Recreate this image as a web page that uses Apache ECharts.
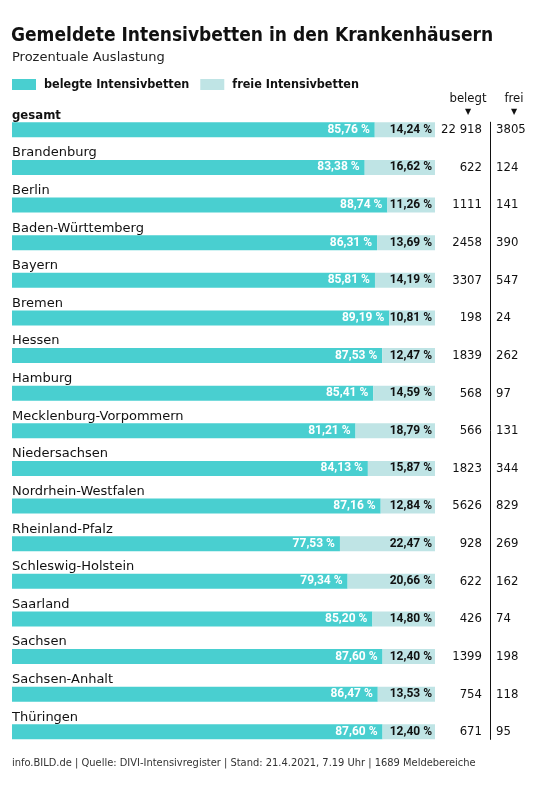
<!DOCTYPE html>
<html><head><meta charset="utf-8">
<script src="https://cdn.jsdelivr.net/npm/echarts@6.0.0/dist/echarts.min.js"></script>
<style>html,body{margin:0;padding:0;background:#fff}#c{width:556px;height:795px}</style>
</head><body><div id="c"></div>
<script>
const regions = ['gesamt','Brandenburg','Berlin','Baden-Württemberg','Bayern','Bremen','Hessen','Hamburg','Mecklenburg-Vorpommern','Niedersachsen','Nordrhein-Westfalen','Rheinland-Pfalz','Schleswig-Holstein','Saarland','Sachsen','Sachsen-Anhalt','Thüringen'];
const belegtPct = [85.76,83.38,88.74,86.31,85.81,89.19,87.53,85.41,81.21,84.13,87.16,77.53,79.34,85.20,87.60,86.47,87.60];
const freiPct = [14.24,16.62,11.26,13.69,14.19,10.81,12.47,14.59,18.79,15.87,12.84,22.47,20.66,14.80,12.40,13.53,12.40];
const belegtBeds = [22918,622,1111,2458,3307,198,1839,568,566,1823,5626,928,622,426,1399,754,671];
const freiBeds = [3805,124,141,390,547,24,262,97,131,344,829,269,162,74,198,118,95];
const seriesNames = ['belegte Intensivbetten','freie Intensivbetten'];
const columnHeads = ['belegt','frei'];

const TEAL = '#49CFD0', LIGHT = '#BFE4E5', INK = '#111';
const COND = "'DejaVu Sans Condensed', 'DejaVu Sans', sans-serif";
const PCTF = "Roboto, 'DejaVu Sans Condensed', sans-serif";
const REG = "'DejaVu Sans', sans-serif";

const pct = v => v.toFixed(2).replace('.', ',') + ' %';
const num = v => v >= 10000 ? String(v).replace(/\B(?=(\d{3})+(?!\d))/g, ' ') : String(v);

const chart = echarts.init(document.getElementById('c'), null, {renderer: 'canvas'});
const option = {
  animation: false,
  backgroundColor: '#fff',
  title: [
    {text: 'Gemeldete Intensivbetten in den Krankenhäusern', left: 11, top: 27, padding: 0,
     textStyle: {fontFamily: COND, fontWeight: 'bold', fontSize: 19, color: INK}},
    {text: 'Prozentuale Auslastung', left: 12, top: 51, padding: 0,
     textStyle: {fontFamily: REG, fontWeight: 'normal', fontSize: 13, color: '#222'}},
    {text: 'info.BILD.de | Quelle: DIVI-Intensivregister | Stand: 21.4.2021, 7.19 Uhr | 1689 Meldebereiche', left: 12, top: 758, padding: 0,
     textStyle: {fontFamily: COND, fontWeight: 'normal', fontSize: 11, color: '#333'}}
  ],
  legend: {
    left: 12, top: 78, padding: 0, itemWidth: 24, itemHeight: 11, itemGap: 11, icon: 'rect',
    selectedMode: false, data: seriesNames,
    textStyle: {fontFamily: COND, fontWeight: 'bold', fontSize: 12.5, color: INK, padding: [0,0,0,3]}
  },
  grid: {left: 12, right: 121, top: 111, bottom: 44.4, containLabel: false},
  xAxis: {type: 'value', min: 0, max: 100, show: false},
  yAxis: [
    {type: 'category', inverse: true, data: regions, position: 'left',
     axisLine: {show: false}, axisTick: {show: false}, splitLine: {show: false},
     axisLabel: {inside: true, margin: 0, align: 'left', verticalAlign: 'bottom', padding: [0,0,7,0],
       formatter: (v, i) => i === 0 ? '{b|' + v + '}' : '{n|' + v + '}',
       rich: {
         b: {fontFamily: COND, fontWeight: 'bold', fontSize: 13, color: INK, lineHeight: 15},
         n: {fontFamily: REG, fontSize: 13, color: INK, lineHeight: 15}
       }}},
    {type: 'category', inverse: true, data: regions, position: 'right', offset: 0,
     axisLine: {show: false}, axisTick: {show: false}, splitLine: {show: false},
     axisLabel: {margin: 47, align: 'right', fontFamily: COND, fontSize: 13, color: INK,
       formatter: (v, i) => num(belegtBeds[i])}},
    {type: 'category', inverse: true, data: regions, position: 'right', offset: 0,
     axisLine: {show: false}, axisTick: {show: false}, splitLine: {show: false},
     axisLabel: {margin: 61, align: 'left', fontFamily: COND, fontSize: 13, color: INK,
       formatter: (v, i) => num(freiBeds[i])}}
  ],
  series: [
    {name: seriesNames[0], type: 'bar', stack: 'all', barWidth: 15, data: belegtPct,
     itemStyle: {color: TEAL}, emphasis: {disabled: true},
     label: {show: true, position: 'insideRight', distance: 5, color: '#fff',
       fontFamily: PCTF, fontWeight: 'bold', fontSize: 12, formatter: p => pct(p.value)}},
    {name: seriesNames[1], type: 'bar', stack: 'all', barWidth: 15, data: freiPct,
     itemStyle: {color: LIGHT}, emphasis: {disabled: true},
     label: {show: true, position: 'insideRight', distance: 3, color: INK,
       fontFamily: PCTF, fontWeight: 'bold', fontSize: 12, formatter: p => pct(p.value)}}
  ],
  graphic: [
    {type: 'text', x: 468, y: 99, style: {text: columnHeads[0], fontFamily: COND, fontSize: 13, fill: INK, align: 'center', verticalAlign: 'middle'}},
    {type: 'text', x: 468, y: 111.5, style: {text: '▼', fontFamily: REG, fontSize: 8, fill: INK, align: 'center', verticalAlign: 'middle'}},
    {type: 'text', x: 514, y: 99, style: {text: columnHeads[1], fontFamily: COND, fontSize: 13, fill: INK, align: 'center', verticalAlign: 'middle'}},
    {type: 'text', x: 514, y: 111.5, style: {text: '▼', fontFamily: REG, fontSize: 8, fill: INK, align: 'center', verticalAlign: 'middle'}}
  ]
};
chart.setOption(option);
const yTop = chart.convertToPixel({yAxisIndex: 0}, regions[0]) - 8;
const yBot = chart.convertToPixel({yAxisIndex: 0}, regions[regions.length - 1]) + 8;
chart.setOption({graphic: option.graphic.concat([
  {type: 'line', shape: {x1: 490.5, y1: yTop, x2: 490.5, y2: yBot}, style: {stroke: INK, lineWidth: 1}}
])});
</script></body></html>
